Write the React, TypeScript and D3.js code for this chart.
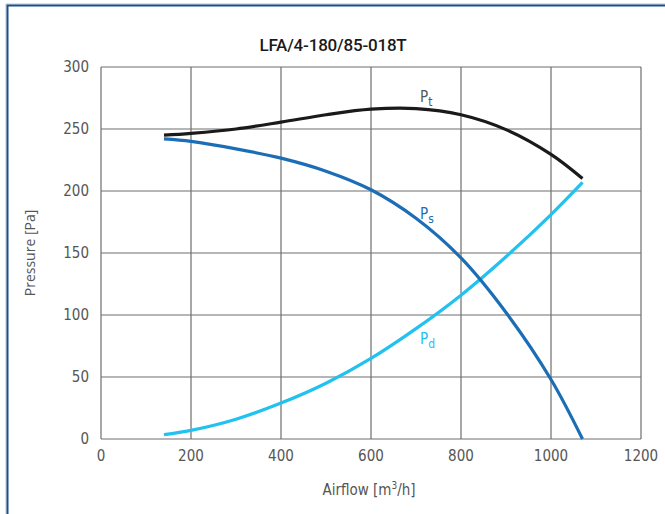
import React, { useEffect, useRef } from "react";
import * as d3 from "d3";

const title = "LFA/4-180/85-018T";
const xTicks = [0, 200, 400, 600, 800, 1000, 1200];
const yTicks = [0, 50, 100, 150, 200, 250, 300];

const ptFlow = [140, 200, 300, 400, 500, 600, 700, 800, 900, 1000, 1070];
const ptVals = [245, 246.5, 250, 255.5, 261.5, 266, 266.5, 261.5, 249.5, 229.5, 210];

const psFlow = [140, 200, 300, 400, 500, 600, 700, 800, 900, 1000, 1070];
const psVals = [242, 240, 234, 226.5, 216, 201, 178, 146, 102, 48, 0];

const pdFlow = [140, 200, 300, 400, 500, 600, 700, 800, 900, 1000, 1070];
const pdVals = [3.5, 7, 16, 29, 45, 65, 89, 116, 147, 181, 207];

const W = 665, H = 514;
const m = { left: 101, right: 641, top: 67, bottom: 439 };
const FONT = "'DejaVu Sans Condensed', 'Liberation Sans Narrow', Roboto, sans-serif";

export default function App() {
  const ref = useRef<SVGSVGElement>(null);
  useEffect(() => {
    document.body.style.margin = "0";
    const svg = d3.select(ref.current);
    svg.selectAll("*").remove();
    const x = d3.scaleLinear().domain([0, 1200]).range([m.left, m.right]);
    const y = d3.scaleLinear().domain([0, 300]).range([m.bottom, m.top]);

    svg.append("rect").attr("width", W).attr("height", H).attr("fill", "#fff");
    // frame
    svg.append("path").attr("d", `M6,${H} V4 H${W}`).attr("fill", "none").attr("stroke", "#b8c4d0").attr("stroke-width", 1);
    svg.append("path").attr("d", `M7.5,${H} V5.5 H${W}`).attr("fill", "none").attr("stroke", "#1b4f8c").attr("stroke-width", 2);

    const g = svg.append("g");
    // grid
    xTicks.forEach((t) => {
      g.append("line").attr("x1", x(t)).attr("x2", x(t)).attr("y1", m.top).attr("y2", m.bottom)
        .attr("stroke", "#6e6e6e").attr("stroke-width", 1.2);
    });
    yTicks.forEach((t) => {
      g.append("line").attr("x1", m.left).attr("x2", m.right).attr("y1", y(t)).attr("y2", y(t))
        .attr("stroke", "#6e6e6e").attr("stroke-width", 1.2);
    });
    // tick labels
    xTicks.forEach((t) => {
      g.append("text").attr("x", x(t)).attr("y", 461).attr("text-anchor", "middle")
        .attr("font-family", FONT).attr("font-size", 15).attr("fill", "#555").text(String(t));
    });
    yTicks.forEach((t) => {
      g.append("text").attr("x", 89).attr("y", y(t) + 5).attr("text-anchor", "end")
        .attr("font-family", FONT).attr("font-size", 15).attr("fill", "#555").text(String(t));
    });

    const line = d3.line<[number, number]>().x((d) => x(d[0])).y((d) => y(d[1])).curve(d3.curveCatmullRom.alpha(0.5));
    const series: [number[], number[], string][] = [
      [pdFlow, pdVals, "#22c1f0"],
      [psFlow, psVals, "#1b6db5"],
      [ptFlow, ptVals, "#1a1a1a"],
    ];
    series.forEach(([fx, fv, c]) => {
      g.append("path").attr("d", line(fx.map((v, i) => [v, fv[i]] as [number, number])))
        .attr("fill", "none").attr("stroke", c).attr("stroke-width", 3.2).attr("stroke-linecap", "butt");
    });

    // curve labels
    const labels: [string, number, number, string][] = [
      ["t", 420, 102, "#555"],
      ["s", 420, 219, "#1b6db5"],
      ["d", 420, 344, "#22c1f0"],
    ];
    labels.forEach(([s, lx, ly, c]) => {
      const t = g.append("text").attr("x", lx).attr("y", ly).attr("font-family", FONT)
        .attr("font-size", 15).attr("fill", c);
      t.append("tspan").text("P");
      t.append("tspan").attr("font-size", 12).attr("dy", 4).text(s);
    });

    // title
    svg.append("text").attr("x", 333).attr("y", 51).attr("text-anchor", "middle")
      .attr("font-family", "Roboto, sans-serif").attr("font-size", 17).attr("font-weight", 500)
      .attr("letter-spacing", -0.2).attr("fill", "#1a1a1a").text(title);

    // axis titles
    const xt = svg.append("text").attr("x", 369).attr("y", 495).attr("text-anchor", "middle")
      .attr("font-family", FONT).attr("font-size", 15).attr("fill", "#555");
    xt.append("tspan").text("Airflow [m");
    xt.append("tspan").attr("font-size", 10).attr("dy", -6).text("3");
    xt.append("tspan").attr("dy", 6).text("/h]");

    svg.append("text").attr("transform", "translate(35,253) rotate(-90)").attr("text-anchor", "middle")
      .attr("font-family", "'Open Sans', sans-serif").attr("font-size", 14).attr("fill", "#555").text("Pressure [Pa]");
  }, []);
  return <svg ref={ref} width={W} height={H} style={{ display: "block" }} />;
}
